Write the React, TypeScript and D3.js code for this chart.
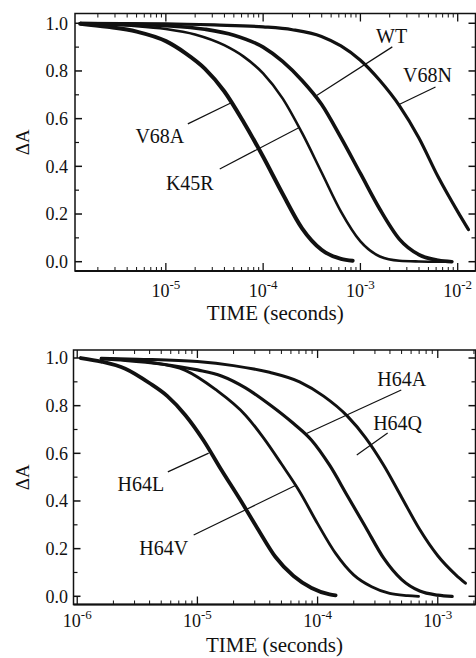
import * as d3 from "d3";

// time values are log10(seconds), ΔA is the normalized absorbance change
const v68aT = [-5.88, -5.6, -5.3, -5.0, -4.8, -4.6, -4.4, -4.2, -4.0, -3.8, -3.6, -3.4, -3.2, -3.08];
const v68aA = [0.998, 0.985, 0.965, 0.925, 0.875, 0.81, 0.715, 0.585, 0.44, 0.285, 0.14, 0.05, 0.012, 0.004];

const k45rT = [-5.88, -5.6, -5.3, -5.0, -4.7, -4.4, -4.2, -4.0, -3.8, -3.6, -3.4, -3.2, -3.0, -2.8, -2.6, -2.4, -2.2, -2.06];
const k45rA = [0.997, 0.994, 0.988, 0.976, 0.953, 0.908, 0.86, 0.79, 0.685, 0.54, 0.375, 0.21, 0.085, 0.022, 0.004, 0.001, 0.0, 0.0];

const wtT = [-5.88, -5.5, -5.0, -4.6, -4.3, -4.0, -3.8, -3.6, -3.4, -3.2, -3.0, -2.8, -2.6, -2.4, -2.2, -2.06];
const wtA = [0.999, 0.997, 0.99, 0.975, 0.95, 0.9, 0.84, 0.76, 0.66, 0.52, 0.37, 0.22, 0.095, 0.03, 0.006, 0.0];

const v68nT = [-5.88, -5.0, -4.5, -4.0, -3.7, -3.4, -3.2, -3.0, -2.8, -2.6, -2.4, -2.2, -2.0, -1.89];
const v68nA = [1.0, 0.998, 0.993, 0.985, 0.973, 0.945, 0.905, 0.845, 0.76, 0.655, 0.52, 0.355, 0.21, 0.135];

const h64lT = [-5.97, -5.8, -5.6, -5.4, -5.25, -5.1, -4.95, -4.8, -4.65, -4.5, -4.35, -4.2, -4.05, -3.9, -3.85];
const h64lA = [1.0, 0.985, 0.955, 0.895, 0.84, 0.76, 0.655, 0.53, 0.41, 0.285, 0.165, 0.085, 0.035, 0.008, 0.004];

const h64vT = [-5.8, -5.6, -5.4, -5.1, -4.85, -4.6, -4.45, -4.3, -4.15, -4.0, -3.85, -3.7, -3.55, -3.4, -3.25, -3.16];
const h64vA = [0.998, 0.992, 0.982, 0.948, 0.868, 0.76, 0.665, 0.555, 0.44, 0.305, 0.18, 0.09, 0.04, 0.012, 0.003, 0.0];

const h64aT = [-5.8, -5.6, -5.3, -5.0, -4.8, -4.6, -4.4, -4.2, -4.05, -3.9, -3.75, -3.6, -3.45, -3.3, -3.15, -3.0, -2.88];
const h64aA = [0.997, 0.99, 0.975, 0.95, 0.925, 0.875, 0.805, 0.725, 0.655, 0.55, 0.42, 0.29, 0.16, 0.07, 0.022, 0.005, 0.0];

const h64qT = [-5.8, -5.5, -5.0, -4.7, -4.4, -4.15, -3.95, -3.75, -3.6, -3.45, -3.3, -3.15, -3.0, -2.85, -2.77];
const h64qA = [0.999, 0.995, 0.985, 0.968, 0.94, 0.9, 0.84, 0.755, 0.665, 0.55, 0.415, 0.28, 0.17, 0.09, 0.055];

const yTicks = [0, 0.2, 0.4, 0.6, 0.8, 1.0];
const yMinor = [0.1, 0.3, 0.5, 0.7, 0.9];
const topDecades = [-5, -4, -3, -2];
const bottomDecades = [-6, -5, -4, -3];

// labels: [text, label logT, label ΔA, leader from logT, from ΔA, to logT, to ΔA]
const topLabels: [string, number, number, number, number, number, number][] = [
  ["V68A", -5.062, 0.498, -4.774, 0.578, -4.312, 0.67],
  ["K45R", -4.754, 0.301, -4.446, 0.389, -3.624, 0.564],
  ["WT", -2.68, 0.918, -2.672, 0.901, -3.45, 0.697],
  ["V68N", -2.31, 0.754, -2.228, 0.733, -2.608, 0.658],
];
const bottomLabels: [string, number, number, number, number, number, number][] = [
  ["H64L", -5.471, 0.441, -5.246, 0.522, -4.906, 0.601],
  ["H64V", -5.28, 0.175, -5.031, 0.257, -4.176, 0.467],
  ["H64A", -3.3, 0.881, -3.304, 0.866, -4.101, 0.681],
  ["H64Q", -3.334, 0.699, -3.417, 0.685, -3.674, 0.593],
];

const FONT = "Liberation Serif, Times New Roman, serif";

type Series = { t: number[]; a: number[]; w: number };

type PanelProps = {
  left: number;
  right: number;
  top: number;
  bottom: number;
  xMin: number;
  xMax: number;
  yMin: number;
  yMax: number;
  decades: number[];
  series: Series[];
  labels: [string, number, number, number, number, number, number][];
  tickBase: number;
  titleBase: number;
};

function Panel(p: PanelProps) {
  const x = d3.scaleLog().domain([10 ** p.xMin, 10 ** p.xMax]).range([p.left, p.right]);
  const y = d3.scaleLinear().domain([p.yMin, p.yMax]).range([p.bottom, p.top]);
  const line = d3
    .line<[number, number]>()
    .x((d) => x(10 ** d[0]))
    .y((d) => y(d[1]))
    .curve(d3.curveMonotoneX);

  const minors: number[] = [];
  for (let k = Math.floor(p.xMin); k < Math.ceil(p.xMax); k++) {
    for (let m = 2; m <= 9; m++) {
      const v = m * 10 ** k;
      if (v > 10 ** p.xMin && v < 10 ** p.xMax) minors.push(v);
    }
  }

  const cx = (p.left + p.right) / 2;
  const cy = (p.top + p.bottom) / 2;
  const txt = { fontFamily: FONT, fill: "#111" };

  return (
    <g>
      {p.series.map((s, i) => (
        <path
          key={i}
          d={line(s.t.map((t, j) => [t, s.a[j]] as [number, number])) || ""}
          fill="none"
          stroke="#111"
          strokeWidth={s.w}
          strokeLinecap="round"
        />
      ))}

      {/* frame */}
      <rect
        x={p.left}
        y={p.top}
        width={p.right - p.left}
        height={p.bottom - p.top}
        fill="none"
        stroke="#111"
        strokeWidth={1.5}
      />
      <line x1={p.left} x2={p.right} y1={p.bottom} y2={p.bottom} stroke="#111" strokeWidth={2.2} />

      {/* y ticks, both sides */}
      {yTicks.map((v) => (
        <g key={"y" + v}>
          <line x1={p.left} x2={p.left + 7} y1={y(v)} y2={y(v)} stroke="#111" strokeWidth={1.5} />
          <line x1={p.right} x2={p.right - 7} y1={y(v)} y2={y(v)} stroke="#111" strokeWidth={1.5} />
          <text x={68} y={y(v)} dy="0.36em" textAnchor="end" fontSize={18} style={txt}>
            {v.toFixed(1)}
          </text>
        </g>
      ))}
      {yMinor.map((v) => (
        <g key={"ym" + v}>
          <line x1={p.left} x2={p.left + 4} y1={y(v)} y2={y(v)} stroke="#111" strokeWidth={1.2} />
          <line x1={p.right} x2={p.right - 4} y1={y(v)} y2={y(v)} stroke="#111" strokeWidth={1.2} />
        </g>
      ))}

      {/* x ticks, bottom and top */}
      {p.decades.map((k) => (
        <g key={"x" + k}>
          <line x1={x(10 ** k)} x2={x(10 ** k)} y1={p.bottom} y2={p.bottom - 8} stroke="#111" strokeWidth={1.3} />
          <line x1={x(10 ** k)} x2={x(10 ** k)} y1={p.top} y2={p.top + 8} stroke="#111" strokeWidth={1.3} />
          <text x={x(10 ** k)} y={p.tickBase} textAnchor="middle" fontSize={18} style={txt}>
            <tspan>10</tspan>
            <tspan dy={-8} fontSize={13}>
              {"-" + Math.abs(k)}
            </tspan>
          </text>
        </g>
      ))}
      {minors.map((v) => (
        <g key={"xm" + v}>
          <line x1={x(v)} x2={x(v)} y1={p.bottom} y2={p.bottom - 4} stroke="#111" strokeWidth={1} />
          <line x1={x(v)} x2={x(v)} y1={p.top} y2={p.top + 4} stroke="#111" strokeWidth={1} />
        </g>
      ))}

      <text x={cx} y={p.titleBase} textAnchor="middle" fontSize={21} style={txt}>
        TIME (seconds)
      </text>
      <text
        transform={`translate(29,${cy}) rotate(-90)`}
        textAnchor="middle"
        fontSize={19}
        style={txt}
      >
        ΔA
      </text>

      {/* curve labels */}
      {p.labels.map(([name, lt, la, t1, a1, t2, a2]) => (
        <g key={name}>
          <line
            x1={x(10 ** t1)}
            y1={y(a1)}
            x2={x(10 ** t2)}
            y2={y(a2)}
            stroke="#111"
            strokeWidth={1.2}
          />
          <text x={x(10 ** lt)} y={y(la)} textAnchor="middle" fontSize={20} style={txt}>
            {name}
          </text>
        </g>
      ))}
    </g>
  );
}

export default function App() {
  return (
    <svg
      width={476}
      height={658}
      viewBox="0 0 476 658"
      style={{ position: "absolute", left: 0, top: 0, background: "#fff" }}
    >
      <rect width={476} height={658} fill="#fff" />
      <Panel
        left={75}
        right={475.5}
        top={13.5}
        bottom={271}
        xMin={-5.934}
        xMax={-1.817}
        yMin={-0.039}
        yMax={1.041}
        decades={topDecades}
        series={[
          { t: v68aT, a: v68aA, w: 4 },
          { t: k45rT, a: k45rA, w: 2.6 },
          { t: wtT, a: wtA, w: 3.6 },
          { t: v68nT, a: v68nA, w: 3.2 },
        ]}
        labels={topLabels}
        tickBase={297}
        titleBase={320}
      />
      <Panel
        left={73.5}
        right={475.5}
        top={350}
        bottom={604.5}
        xMin={-6.031}
        xMax={-2.686}
        yMin={-0.0344}
        yMax={1.0336}
        decades={bottomDecades}
        series={[
          { t: h64lT, a: h64lA, w: 3.8 },
          { t: h64vT, a: h64vA, w: 2.8 },
          { t: h64aT, a: h64aA, w: 3.2 },
          { t: h64qT, a: h64qA, w: 3.0 },
        ]}
        labels={bottomLabels}
        tickBase={627}
        titleBase={652}
      />
    </svg>
  );
}
